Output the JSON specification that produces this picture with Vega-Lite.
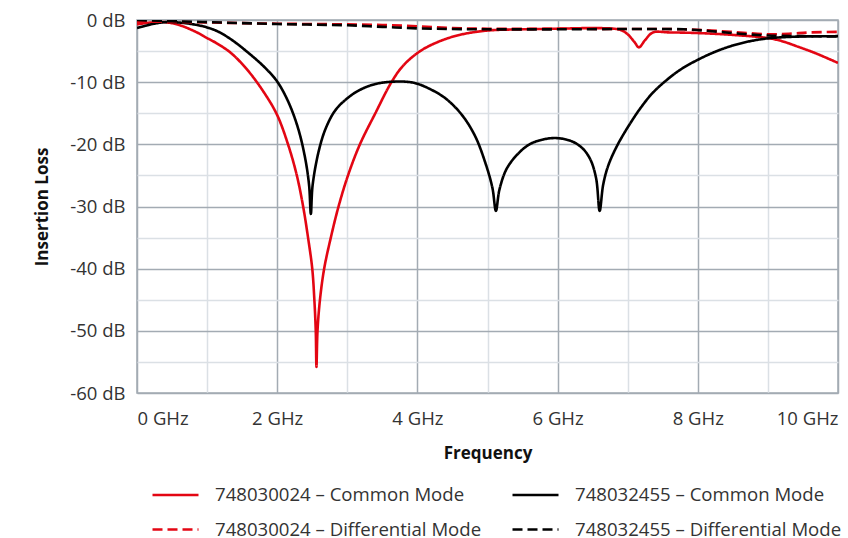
{
  "$schema": "https://vega.github.io/schema/vega-lite/v6.json",
  "width": 701,
  "height": 373,
  "autosize": "none",
  "padding": {"left": 137, "top": 20, "right": 10, "bottom": 145},
  "background": "white",
  "config": {
    "font": "Open Sans",
    "view": {"stroke": "#a3abb3", "strokeWidth": 1.5},
    "axis": {
      "labelFont": "Open Sans",
      "labelFontSize": 18.5,
      "labelColor": "#333333",
      "titleFont": "Open Sans",
      "titleFontSize": 17,
      "titleColor": "#111111",
      "titleFontWeight": "bold",
      "ticks": false,
      "domain": false,
      "gridWidth": 1.5
    },
    "legend": {
      "labelFont": "Open Sans",
      "labelFontSize": 18.6,
      "labelColor": "#333333",
      "labelLimit": 400
    }
  },
  "data": {
    "values": [
      {"s": "748030024 – Common Mode", "f": 0, "db": -0.7},
      {"s": "748030024 – Common Mode", "f": 0.2, "db": -0.4},
      {"s": "748030024 – Common Mode", "f": 0.4, "db": -0.35},
      {"s": "748030024 – Common Mode", "f": 0.6, "db": -0.8},
      {"s": "748030024 – Common Mode", "f": 0.855, "db": -2.0},
      {"s": "748030024 – Common Mode", "f": 1.0, "db": -2.9},
      {"s": "748030024 – Common Mode", "f": 1.145, "db": -3.8},
      {"s": "748030024 – Common Mode", "f": 1.34, "db": -5.3},
      {"s": "748030024 – Common Mode", "f": 1.58, "db": -8.1},
      {"s": "748030024 – Common Mode", "f": 1.82, "db": -11.8},
      {"s": "748030024 – Common Mode", "f": 2.0, "db": -15.3},
      {"s": "748030024 – Common Mode", "f": 2.16, "db": -20.2},
      {"s": "748030024 – Common Mode", "f": 2.28, "db": -25},
      {"s": "748030024 – Common Mode", "f": 2.37, "db": -30},
      {"s": "748030024 – Common Mode", "f": 2.44, "db": -35},
      {"s": "748030024 – Common Mode", "f": 2.5, "db": -40},
      {"s": "748030024 – Common Mode", "f": 2.53, "db": -45},
      {"s": "748030024 – Common Mode", "f": 2.55, "db": -50},
      {"s": "748030024 – Common Mode", "f": 2.56, "db": -55.8},
      {"s": "748030024 – Common Mode", "f": 2.575, "db": -50},
      {"s": "748030024 – Common Mode", "f": 2.61, "db": -45},
      {"s": "748030024 – Common Mode", "f": 2.67, "db": -40},
      {"s": "748030024 – Common Mode", "f": 2.765, "db": -35},
      {"s": "748030024 – Common Mode", "f": 2.875, "db": -30},
      {"s": "748030024 – Common Mode", "f": 3.01, "db": -25},
      {"s": "748030024 – Common Mode", "f": 3.18, "db": -20},
      {"s": "748030024 – Common Mode", "f": 3.4, "db": -15},
      {"s": "748030024 – Common Mode", "f": 3.63, "db": -10},
      {"s": "748030024 – Common Mode", "f": 3.8, "db": -7.3},
      {"s": "748030024 – Common Mode", "f": 4.04, "db": -5.0},
      {"s": "748030024 – Common Mode", "f": 4.3, "db": -3.5},
      {"s": "748030024 – Common Mode", "f": 4.6, "db": -2.4},
      {"s": "748030024 – Common Mode", "f": 5.0, "db": -1.7},
      {"s": "748030024 – Common Mode", "f": 5.5, "db": -1.5},
      {"s": "748030024 – Common Mode", "f": 6.0, "db": -1.4},
      {"s": "748030024 – Common Mode", "f": 6.5, "db": -1.3},
      {"s": "748030024 – Common Mode", "f": 6.8, "db": -1.4},
      {"s": "748030024 – Common Mode", "f": 6.9, "db": -1.6},
      {"s": "748030024 – Common Mode", "f": 7.0, "db": -2.3},
      {"s": "748030024 – Common Mode", "f": 7.1, "db": -3.6},
      {"s": "748030024 – Common Mode", "f": 7.16, "db": -4.4},
      {"s": "748030024 – Common Mode", "f": 7.25, "db": -3.2},
      {"s": "748030024 – Common Mode", "f": 7.36, "db": -2.0},
      {"s": "748030024 – Common Mode", "f": 7.6, "db": -2.0},
      {"s": "748030024 – Common Mode", "f": 8.0, "db": -2.1},
      {"s": "748030024 – Common Mode", "f": 8.5, "db": -2.4},
      {"s": "748030024 – Common Mode", "f": 9.0, "db": -2.9},
      {"s": "748030024 – Common Mode", "f": 9.2, "db": -3.4},
      {"s": "748030024 – Common Mode", "f": 9.43, "db": -4.3},
      {"s": "748030024 – Common Mode", "f": 9.67, "db": -5.3},
      {"s": "748030024 – Common Mode", "f": 10, "db": -6.9},

      {"s": "748032455 – Common Mode", "f": 0, "db": -1.3},
      {"s": "748032455 – Common Mode", "f": 0.2, "db": -0.7},
      {"s": "748032455 – Common Mode", "f": 0.4, "db": -0.35},
      {"s": "748032455 – Common Mode", "f": 0.6, "db": -0.4},
      {"s": "748032455 – Common Mode", "f": 0.855, "db": -0.8},
      {"s": "748032455 – Common Mode", "f": 1.0, "db": -1.2},
      {"s": "748032455 – Common Mode", "f": 1.145, "db": -1.8},
      {"s": "748032455 – Common Mode", "f": 1.34, "db": -3.1},
      {"s": "748032455 – Common Mode", "f": 1.58, "db": -5.2},
      {"s": "748032455 – Common Mode", "f": 1.82, "db": -7.6},
      {"s": "748032455 – Common Mode", "f": 2.0, "db": -9.9},
      {"s": "748032455 – Common Mode", "f": 2.16, "db": -13.2},
      {"s": "748032455 – Common Mode", "f": 2.3, "db": -17.5},
      {"s": "748032455 – Common Mode", "f": 2.4, "db": -22.3},
      {"s": "748032455 – Common Mode", "f": 2.455, "db": -26.6},
      {"s": "748032455 – Common Mode", "f": 2.48, "db": -31.2},
      {"s": "748032455 – Common Mode", "f": 2.505, "db": -26.6},
      {"s": "748032455 – Common Mode", "f": 2.59, "db": -21.2},
      {"s": "748032455 – Common Mode", "f": 2.69, "db": -17.5},
      {"s": "748032455 – Common Mode", "f": 2.83, "db": -14.5},
      {"s": "748032455 – Common Mode", "f": 3.0, "db": -12.6},
      {"s": "748032455 – Common Mode", "f": 3.17, "db": -11.3},
      {"s": "748032455 – Common Mode", "f": 3.4, "db": -10.3},
      {"s": "748032455 – Common Mode", "f": 3.7, "db": -9.9},
      {"s": "748032455 – Common Mode", "f": 3.95, "db": -10.1},
      {"s": "748032455 – Common Mode", "f": 4.16, "db": -11.0},
      {"s": "748032455 – Common Mode", "f": 4.4, "db": -12.6},
      {"s": "748032455 – Common Mode", "f": 4.63, "db": -15.2},
      {"s": "748032455 – Common Mode", "f": 4.82, "db": -18.6},
      {"s": "748032455 – Common Mode", "f": 4.97, "db": -23},
      {"s": "748032455 – Common Mode", "f": 5.07, "db": -27},
      {"s": "748032455 – Common Mode", "f": 5.12, "db": -30.7},
      {"s": "748032455 – Common Mode", "f": 5.17, "db": -27.3},
      {"s": "748032455 – Common Mode", "f": 5.27, "db": -24},
      {"s": "748032455 – Common Mode", "f": 5.42, "db": -21.7},
      {"s": "748032455 – Common Mode", "f": 5.6, "db": -20.0},
      {"s": "748032455 – Common Mode", "f": 5.8, "db": -19.2},
      {"s": "748032455 – Common Mode", "f": 5.99, "db": -19.0},
      {"s": "748032455 – Common Mode", "f": 6.2, "db": -19.5},
      {"s": "748032455 – Common Mode", "f": 6.36, "db": -20.7},
      {"s": "748032455 – Common Mode", "f": 6.47, "db": -22.5},
      {"s": "748032455 – Common Mode", "f": 6.55, "db": -25.5},
      {"s": "748032455 – Common Mode", "f": 6.6, "db": -30.7},
      {"s": "748032455 – Common Mode", "f": 6.65, "db": -26.5},
      {"s": "748032455 – Common Mode", "f": 6.72, "db": -23.5},
      {"s": "748032455 – Common Mode", "f": 6.85, "db": -20.2},
      {"s": "748032455 – Common Mode", "f": 7.06, "db": -16.2},
      {"s": "748032455 – Common Mode", "f": 7.2, "db": -13.9},
      {"s": "748032455 – Common Mode", "f": 7.35, "db": -11.8},
      {"s": "748032455 – Common Mode", "f": 7.53, "db": -9.9},
      {"s": "748032455 – Common Mode", "f": 7.75, "db": -8.0},
      {"s": "748032455 – Common Mode", "f": 8.0, "db": -6.4},
      {"s": "748032455 – Common Mode", "f": 8.25, "db": -5.1},
      {"s": "748032455 – Common Mode", "f": 8.5, "db": -4.1},
      {"s": "748032455 – Common Mode", "f": 8.75, "db": -3.4},
      {"s": "748032455 – Common Mode", "f": 9.0, "db": -2.95},
      {"s": "748032455 – Common Mode", "f": 9.25, "db": -2.75},
      {"s": "748032455 – Common Mode", "f": 9.5, "db": -2.65},
      {"s": "748032455 – Common Mode", "f": 10, "db": -2.6},

      {"s": "748030024 – Differential Mode", "f": 0, "db": -0.3},
      {"s": "748030024 – Differential Mode", "f": 0.5, "db": -0.3},
      {"s": "748030024 – Differential Mode", "f": 1, "db": -0.4},
      {"s": "748030024 – Differential Mode", "f": 1.5, "db": -0.5},
      {"s": "748030024 – Differential Mode", "f": 2, "db": -0.6},
      {"s": "748030024 – Differential Mode", "f": 2.5, "db": -0.65},
      {"s": "748030024 – Differential Mode", "f": 3, "db": -0.7},
      {"s": "748030024 – Differential Mode", "f": 3.5, "db": -0.8},
      {"s": "748030024 – Differential Mode", "f": 4, "db": -1.0},
      {"s": "748030024 – Differential Mode", "f": 4.5, "db": -1.3},
      {"s": "748030024 – Differential Mode", "f": 5, "db": -1.4},
      {"s": "748030024 – Differential Mode", "f": 6, "db": -1.4},
      {"s": "748030024 – Differential Mode", "f": 7, "db": -1.45},
      {"s": "748030024 – Differential Mode", "f": 7.8, "db": -1.5},
      {"s": "748030024 – Differential Mode", "f": 8.2, "db": -1.7},
      {"s": "748030024 – Differential Mode", "f": 8.6, "db": -2.0},
      {"s": "748030024 – Differential Mode", "f": 9.0, "db": -2.3},
      {"s": "748030024 – Differential Mode", "f": 9.3, "db": -2.2},
      {"s": "748030024 – Differential Mode", "f": 9.6, "db": -2.0},
      {"s": "748030024 – Differential Mode", "f": 10, "db": -1.9},

      {"s": "748032455 – Differential Mode", "f": 0, "db": 0},
      {"s": "748032455 – Differential Mode", "f": 0.5, "db": -0.2},
      {"s": "748032455 – Differential Mode", "f": 1, "db": -0.35},
      {"s": "748032455 – Differential Mode", "f": 1.5, "db": -0.5},
      {"s": "748032455 – Differential Mode", "f": 2, "db": -0.65},
      {"s": "748032455 – Differential Mode", "f": 2.5, "db": -0.75},
      {"s": "748032455 – Differential Mode", "f": 3, "db": -0.85},
      {"s": "748032455 – Differential Mode", "f": 3.5, "db": -1.1},
      {"s": "748032455 – Differential Mode", "f": 4, "db": -1.35},
      {"s": "748032455 – Differential Mode", "f": 4.5, "db": -1.45},
      {"s": "748032455 – Differential Mode", "f": 5, "db": -1.5},
      {"s": "748032455 – Differential Mode", "f": 6, "db": -1.5},
      {"s": "748032455 – Differential Mode", "f": 7, "db": -1.45},
      {"s": "748032455 – Differential Mode", "f": 7.8, "db": -1.5},
      {"s": "748032455 – Differential Mode", "f": 8.2, "db": -1.8},
      {"s": "748032455 – Differential Mode", "f": 8.6, "db": -2.2},
      {"s": "748032455 – Differential Mode", "f": 9.0, "db": -2.5},
      {"s": "748032455 – Differential Mode", "f": 9.5, "db": -2.6},
      {"s": "748032455 – Differential Mode", "f": 10, "db": -2.65}
    ]
  },
  "mark": {"type": "line", "strokeWidth": 2.6, "interpolate": "catmull-rom", "clip": true},
  "encoding": {
    "x": {
      "field": "f",
      "type": "quantitative",
      "scale": {"domain": [0, 10], "nice": false},
      "axis": {
        "title": "Frequency",
        "values": [0, 1, 2, 3, 4, 5, 6, 7, 8, 9, 10],
        "labelExpr": "datum.value % 2 === 0 ? datum.value + ' GHz' : ''",
        "labelFlush": true,
        "labelPadding": 16,
        "titlePadding": 18,
        "gridColor": {"condition": {"test": "datum.value % 2 === 0", "value": "#a3abb3"}, "value": "#dbe0e5"}
      }
    },
    "y": {
      "field": "db",
      "type": "quantitative",
      "scale": {"domain": [-60, 0], "nice": false},
      "axis": {
        "title": "Insertion Loss",
        "values": [-60, -55, -50, -45, -40, -35, -30, -25, -20, -15, -10, -5, 0],
        "labelExpr": "datum.value % 10 === 0 ? datum.value + ' dB' : ''",
        "labelFlush": false,
        "labelPadding": 12,
        "titlePadding": 18,
        "gridColor": {"condition": {"test": "datum.value % 10 === 0", "value": "#a3abb3"}, "value": "#dbe0e5"}
      }
    },
    "color": {
      "field": "s",
      "type": "nominal",
      "scale": {
        "domain": ["748030024 – Common Mode", "748030024 – Differential Mode", "748032455 – Common Mode", "748032455 – Differential Mode"],
        "range": ["#e30613", "#e30613", "#000000", "#000000"]
      },
      "legend": {
        "title": null,
        "orient": "none",
        "legendX": 14,
        "legendY": 450,
        "columns": 2,
        "columnPadding": 25,
        "rowPadding": -17,
        "symbolType": "stroke",
        "symbolSize": 2116,
        "symbolStrokeWidth": 2.6,
        "labelOffset": 15
      }
    },
    "strokeDash": {
      "field": "s",
      "type": "nominal",
      "scale": {
        "domain": ["748030024 – Common Mode", "748030024 – Differential Mode", "748032455 – Common Mode", "748032455 – Differential Mode"],
        "range": [[1, 0], [10, 5], [1, 0], [10, 5]]
      }
    }
  }
}
